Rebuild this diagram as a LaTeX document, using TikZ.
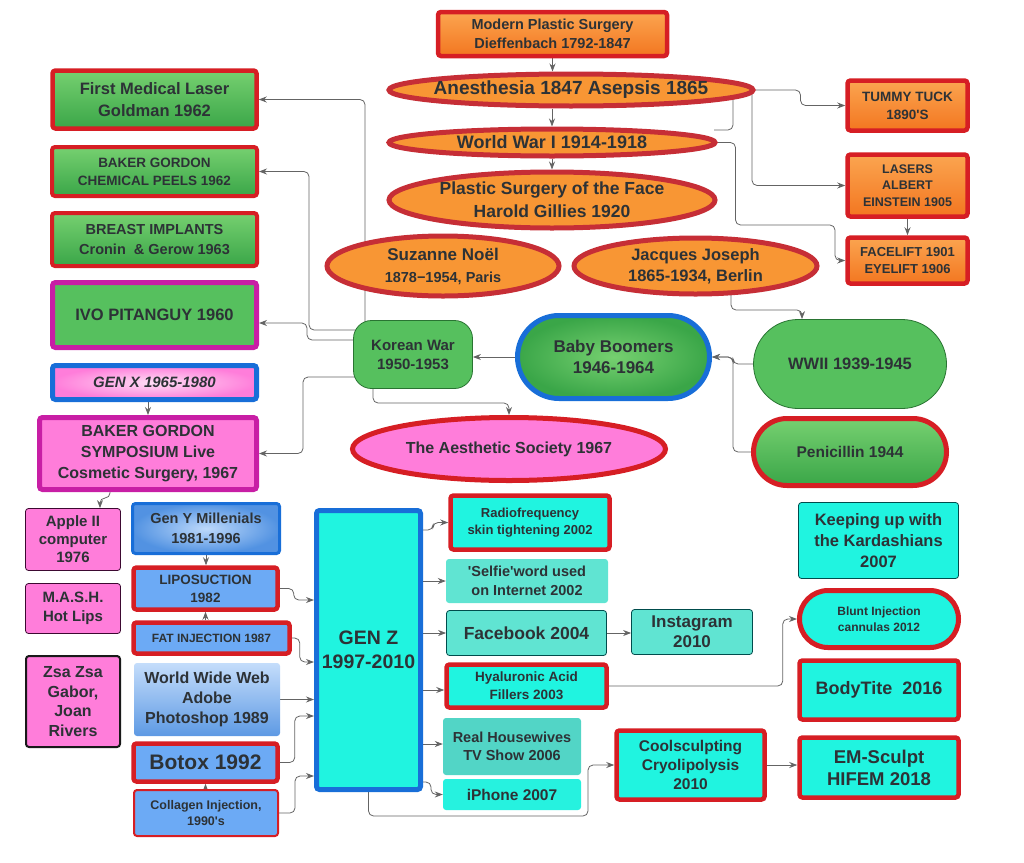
\documentclass[tikz,border=0pt]{standalone}
\usepackage{fontspec}
\setmainfont{Liberation Sans}
\usetikzlibrary{positioning, shapes.geometric, shapes.misc, arrows.meta, backgrounds}

\definecolor{redline}{RGB}{214,30,36}
\definecolor{ovalred}{RGB}{198,46,54}
\definecolor{orangeL}{RGB}{251,165,80}
\definecolor{orangeD}{RGB}{243,118,32}
\definecolor{orangeF}{RGB}{248,150,52}
\definecolor{greenL}{RGB}{118,208,112}
\definecolor{greenD}{RGB}{58,166,72}
\definecolor{greenF}{RGB}{86,192,94}
\definecolor{magline}{RGB}{200,30,165}
\definecolor{pinkF}{RGB}{255,125,218}
\definecolor{blueline}{RGB}{24,110,216}
\definecolor{lblue}{RGB}{108,170,245}
\definecolor{cyanF}{RGB}{32,244,224}
\definecolor{turqF}{RGB}{96,228,210}
\definecolor{linegray}{RGB}{100,100,100}
\definecolor{txtdark}{RGB}{45,50,54}

\newcommand{\fsz}[2]{\fontsize{#1}{#2}\selectfont\bfseries}

\tikzset{
  wh/.style 2 args={minimum width=#1pt, minimum height=#2pt},
  box/.style={rectangle, rounded corners=3pt, align=center, inner sep=1pt, text=txtdark},
  redrim/.style={draw=redline, line width=4.5pt},
  thinrim/.style={draw=#1, line width=0.8pt},
  orangebox/.style={box, redrim, top color=orangeL, bottom color=orangeD},
  orangeoval/.style={ellipse, inner sep=0pt, draw=ovalred, line width=5pt, fill=orangeF},
  greenbox/.style={box, top color=greenL, bottom color=greenD},
  pinkbox/.style={box, fill=pinkF},
  bluebox/.style={box, fill=lblue},
  cyanbox/.style={box, fill=cyanF},
  pill/.style={rounded rectangle, inner sep=0pt},
  ovaltext/.style 2 args={label={[align=center, text=txtdark, inner sep=0pt, font=#1]center:{#2}}},
  link/.style={draw=linegray, line width=0.8pt, rounded corners=5pt, -{Stealth[length=8pt, width=6pt]}},
  wire/.style={draw=linegray, line width=0.8pt, rounded corners=5pt}
}

\begin{document}
\begin{tikzpicture}[x=1pt, y=-1pt]
\useasboundingbox (0,0) rectangle (1024,862);

% history, top
\node[orangebox, wh={229}{44}, font=\fsz{14.5}{19}] (mps) at (552.5,34) {Modern Plastic Surgery\\Dieffenbach 1792-1847};
\node[orangeoval, wh={364}{32}, ovaltext={\fsz{19}{23}}{Anesthesia 1847 Asepsis 1865}] (anes) at (571,90) {};
\node[orangeoval, wh={326}{27}, ovaltext={\fsz{18}{22}}{World War I 1914-1918}] (wwi) at (552,142.5) {};
\node[orangeoval, wh={326}{56}, ovaltext={\fsz{17.5}{23}}{Plastic Surgery of the Face\\Harold Gillies 1920}] (psf) at (552,200) {};
\node[orangeoval, wh={232}{60}, ovaltext={\fsz{14.5}{22}}{{\fsz{17}{22}Suzanne Noël}\\1878−1954, Paris}] (noel) at (443,266) {};
\node[orangeoval, wh={243}{56}, ovaltext={\fsz{16.5}{21}}{Jacques Joseph\\1865-1934, Berlin}] (joseph) at (695.5,266) {};

\node[orangebox, wh={120}{50}, font=\fsz{13.5}{18}] (tummy) at (907.5,105.5) {TUMMY TUCK\\1890\textquotesingle S};
\node[orangebox, wh={120}{62}, font=\fsz{12.5}{16.5}] (lasers) at (907.5,185.5) {LASERS\\ALBERT\\EINSTEIN 1905};
\node[orangebox, wh={120}{46}, font=\fsz{13}{17}] (facelift) at (907.5,260.5) {FACELIFT 1901\\EYELIFT 1906};

% left column
\node[greenbox, redrim, wh={204}{58}, font=\fsz{16.5}{22}] (laser1) at (154.5,99.5) {First Medical Laser\\Goldman 1962};
\node[greenbox, redrim, line width=4pt, wh={205}{49}, font=\fsz{13.5}{18}] (peels) at (154.5,171.5) {BAKER GORDON\\CHEMICAL PEELS 1962};
\node[greenbox, redrim, line width=4pt, wh={205}{53}, font=\fsz{14.5}{20}] (implants) at (154.5,239.5) {BREAST IMPLANTS\\Cronin~ \& Gerow 1963};
\node[box, fill=greenF, draw=magline, line width=5pt, wh={204}{65}, font=\fsz{16.5}{20}] (ivo) at (154.5,315) {IVO PITANGUY 1960};
\node[box, draw=blueline, line width=5pt, inner color=pinkF!25!white, outer color=pinkF, wh={204}{34}, font=\fsz{15}{18}\itshape] (genx) at (154.5,382.5) {GEN X 1965-1980};
\node[pinkbox, draw=magline, line width=5pt, wh={217}{72}, font=\fsz{16}{21}] (symp) at (148,453.5) {BAKER GORDON\\SYMPOSIUM Live\\Cosmetic Surgery, 1967};

% middle band
\node[box, rounded corners=18pt, fill=greenF, thinrim={greenD!70!black}, wh={119}{68}, font=\fsz{15}{19}] (korean) at (413,354.5) {Korean War\\1950-1953};
\node[pill, draw=blueline, line width=5pt, inner color=greenL, outer color=greenD, wh={192}{83}, ovaltext={\fsz{17}{21}}{Baby Boomers\\1946-1964}] (bb) at (613.5,357) {};
\node[pill, fill=greenF, thinrim={greenD!70!black}, wh={193}{89}, ovaltext={\fsz{16.5}{20}}{WWII 1939-1945}] (wwii) at (850,364) {};
\node[pill, draw=redline, line width=5pt, top color=greenL, bottom color=greenD, wh={193}{67}, ovaltext={\fsz{15.5}{19}}{Penicillin 1944}] (penic) at (850,452) {};
\node[ellipse, inner sep=0pt, fill=pinkF, draw=redline, line width=5pt, wh={313}{63}, ovaltext={\fsz{16}{20}}{The Aesthetic Society 1967}] (aesth) at (509,449) {};

% gen y
\node[pinkbox, thinrim={black!70!magline}, wh={95}{62}, font=\fsz{15}{18}] (apple) at (73,539.5) {Apple II\\computer\\1976};
\node[pinkbox, thinrim={black!70!magline}, wh={95}{50}, font=\fsz{15}{19}] (mash) at (73,608.5) {M.A.S.H.\\Hot Lips};
\node[pinkbox, draw=black!90, line width=2pt, wh={94}{91}, font=\fsz{16}{19.5}] (zsa) at (73,701.5) {Zsa Zsa\\Gabor,\\Joan\\Rivers};
\node[box, draw=blueline, line width=3pt, inner color=lblue!45!white, outer color=blueline!75!white, wh={147}{50}, font=\fsz{14.5}{20}] (geny) at (206,528.5) {Gen Y Millenials\\1981-1996};
\node[bluebox, redrim, wh={144}{42}, font=\fsz{13.5}{18}] (lipo) at (205.5,588.5) {LIPOSUCTION\\1982};
\node[bluebox, redrim, wh={156}{31}, font=\fsz{12}{15}] (fat) at (211.5,638) {FAT INJECTION 1987};
\node[box, top color=lblue!40!white, bottom color=blueline!70!white, wh={146}{73}, font=\fsz{16}{20}] (www) at (207,699.5) {World Wide Web\\Adobe\\Photoshop 1989};
\node[bluebox, redrim, wh={144}{38}, font=\fsz{21}{24}] (botox) at (205.5,762.5) {Botox 1992};
\node[bluebox, draw=redline, line width=2pt, wh={144}{46}, font=\fsz{12.5}{16}] (collagen) at (206,813) {Collagen Injection,\\1990\textquotesingle s};

% gen z
\node[cyanbox, draw=blueline, line width=5pt, wh={104}{279}, font=\fsz{19.5}{24}] (genz) at (368.5,650) {GEN Z\\1997-2010};
\node[cyanbox, redrim, wh={159}{54}, font=\fsz{13}{17}] (radio) at (530,522.5) {Radiofrequency\\skin tightening 2002};
\node[box, fill=turqF, wh={162}{44}, font=\fsz{14.5}{19}] (selfie) at (527,581) {\textquotesingle Selfie\textquotesingle word used\\on Internet 2002};
\node[box, fill=turqF, thinrim={teal!60!black}, wh={160}{45}, font=\fsz{17.5}{21}] (facebook) at (526.5,633) {Facebook 2004};
\node[cyanbox, redrim, wh={160}{43}, font=\fsz{13.5}{18}] (hyal) at (526.5,686) {Hyaluronic Acid\\Fillers 2003};
\node[box, fill=turqF!85!teal, wh={138}{57}, font=\fsz{14.5}{18}] (housew) at (512,746.5) {Real Housewives\\TV Show 2006};
\node[box, fill=cyanF!90!turqF, wh={138}{31}, font=\fsz{15.5}{19}] (iphone) at (512,794.5) {iPhone 2007};
\node[box, fill=turqF, thinrim={teal!60!black}, wh={121}{45}, font=\fsz{17}{20}] (insta) at (692,632) {Instagram\\2010};
\node[cyanbox, redrim, wh={148}{69}, font=\fsz{15.5}{19}] (cool) at (690.5,765) {Coolsculpting\\Cryolipolysis\\2010};

% right column
\node[cyanbox, thinrim={teal!60!black}, wh={160}{76}, font=\fsz{16.5}{21}] (keeping) at (878.5,540.5) {Keeping up with\\the Kardashians\\2007};
\node[pill, fill=cyanF, draw=redline, line width=5pt, wh={159}{57}, ovaltext={\fsz{12}{16}}{Blunt Injection\\cannulas 2012}] (blunt) at (879,619) {};
\node[cyanbox, redrim, wh={159}{59}, font=\fsz{18}{22}] (bodytite) at (879,690) {BodyTite~ 2016};
\node[cyanbox, redrim, wh={159}{60}, font=\fsz{18.5}{22}] (emsculpt) at (879,767.5) {EM-Sculpt\\HIFEM 2018};

% connectors
\begin{scope}[on background layer]
  \draw[link] (mps.south) -- (mps.south |- anes.north);
  \draw[link] (wwi.north |- anes.south) -- (wwi.north);
  \draw[link] (wwi.south) -- (wwi.south |- psf.north);
  \draw[link] (anes.east) -- ++(45,0) |- (tummy.west);
  \draw[wire] (anes.center -| 733,0) |- (714,130);
  \draw[link] (anes.center -| 752,0) |- (lasers.west);
  \draw[link] (wwi.east) -- ++(18,0) |- (835,225) |- (facelift.west);
  \draw[link] (lasers.south) -- (facelift.north);
  \draw[link] (joseph.center -| 731,0) |- (802,310) -- (wwii.north -| 802,0);
  \draw[link] (wwii.west) -- ++(-20,0) |- (bb.east);
  \draw[link] (penic.west) -- ++(-18,0) |- (bb.east);
  \draw[link] (bb.west) -- (bb.west -| korean.east);
  \draw[link] (korean.center -| 365,0) |- (laser1.east);
  \draw[link] (korean.center |- 0,330) -- (309,330) |- (peels.east);
  \draw[link] (korean.center |- 0,340) -- (307,340) |- (ivo.east |- 0,323);
  \draw[link] (korean.center |- 0,377) -- (303,377) |- (symp.east);
  \draw[link] (korean.center -| 373,0) |- (aesth.north |- 0,403) -- (aesth.north);
  \draw[link] (genx.south -| symp.north) -- (symp.north);
  \draw[link] (symp.south -| 110,0) -- ++(0,6) -| (apple.north -| 100,0);
  \draw[link] (geny.south) -- (geny.south |- lipo.north);
  \draw[link] (lipo.south |- fat.north) -- (lipo.south);
  \draw[link] (botox.south |- collagen.north) -- (botox.south);
  \draw[link] (lipo.east) -- ++(14,0) |- (genz.west |- 0,600);
  \draw[link] (fat.east) -- ++(8,0) |- (genz.west |- 0,662);
  \draw[link] (www.east) -- (www.east -| genz.west);
  \draw[link] (botox.east) -- ++(15,0) |- (genz.west |- 0,716);
  \draw[link] (collagen.east) -- ++(16,0) |- (genz.west |- 0,776);
  \draw[link] (genz.east |- 0,530) -- ++(10,0) |- (radio.west);
  \draw[link] (genz.east |- selfie.west) -- (selfie.west);
  \draw[link] (genz.east |- facebook.west) -- (facebook.west);
  \draw[link] (genz.east |- 0,690) -- (hyal.west |- 0,690);
  \draw[link] (genz.east |- 0,744) -- (housew.west |- 0,744);
  \draw[link] (genz.east |- 0,782) -- ++(8,0) |- (iphone.west);
  \draw[link] (genz.south) |- (588,816) |- (cool.west);
  \draw[link] (facebook.east) -- (facebook.east -| insta.west);
  \draw[link] (hyal.east) -- ++(174,0) |- (blunt.west);
  \draw[link] (cool.east) -- (cool.east -| emsculpt.west);
\end{scope}
\end{tikzpicture}
\end{document}
